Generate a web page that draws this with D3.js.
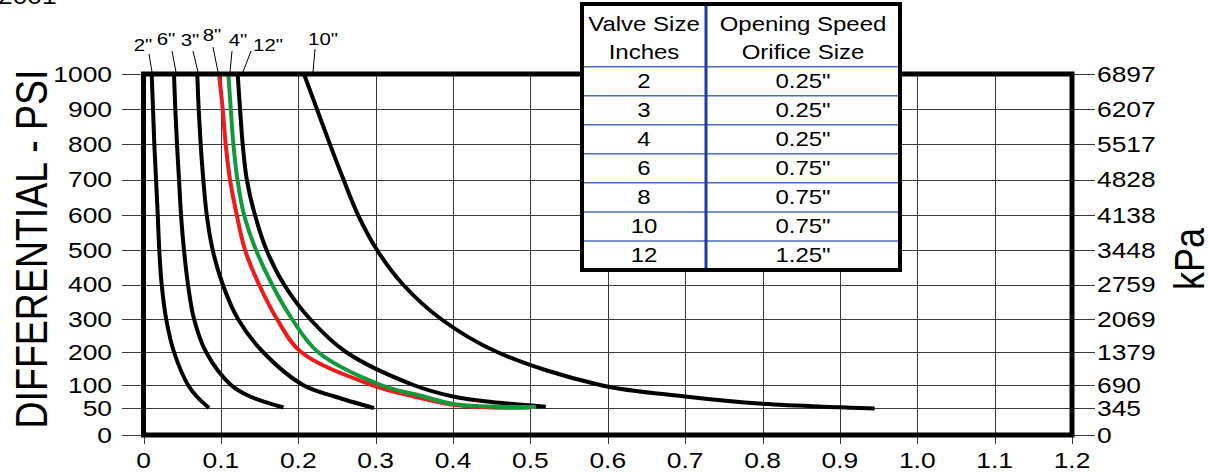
<!DOCTYPE html>
<html><head><meta charset="utf-8">
<script src="https://cdn.jsdelivr.net/npm/d3@7"></script>
<style>
body{margin:0;background:#fff}
svg{display:block}
text{font-family:"Liberation Sans",Arial,Helvetica,sans-serif;fill:#000}
</style>
</head><body>
<svg id="chart" width="1209" height="473"></svg>
<script>
// ---------------- data ----------------
const psiTicks = [0, 50, 100, 200, 300, 400, 500, 600, 700, 800, 900, 1000];
const psiTickLabels = ["0","50","100","200","300","400","500","600","700","800","900","1000"];
const kpaTickLabels = ["0","345","690","1379","2069","2759","3448","4138","4828","5517","6207","6897"];
const xTicks = [0, 0.1, 0.2, 0.3, 0.4, 0.5, 0.6, 0.7, 0.8, 0.9, 1.0, 1.1, 1.2];
const xTickLabels = ["0","0.1","0.2","0.3","0.4","0.5","0.6","0.7","0.8","0.9","1.0","1.1","1.2"];

// curve points: [x value, differential psi]
const curve2in  = [[0.0106,1000],[0.0123,900],[0.0140,800],[0.0162,700],[0.0184,600],[0.0204,500],[0.0235,400],[0.0293,300],[0.0394,200],[0.0575,100],[0.0688,75],[0.0847,50]];
const curve6in  = [[0.0394,1000],[0.0411,900],[0.0433,800],[0.0459,700],[0.0485,600],[0.0523,500],[0.0575,400],[0.0653,300],[0.0808,200],[0.1131,100],[0.1376,75],[0.1809,51]];
const curve3in  = [[0.0695,1000],[0.0713,900],[0.0739,800],[0.0773,700],[0.0817,600],[0.0894,500],[0.1024,400],[0.1221,300],[0.1544,200],[0.2061,100],[0.2470,75],[0.2979,50]];
const curve8in  = [[0.0976,1000],[0.1024,900],[0.1062,800],[0.1118,700],[0.1205,600],[0.1312,500],[0.1493,400],[0.1725,300],[0.2036,200],[0.2953,100],[0.3496,75],[0.4000,57],[0.4500,51],[0.5000,51]];
const curve4in  = [[0.1097,1000],[0.1128,900],[0.1162,800],[0.1214,700],[0.1299,600],[0.1454,500],[0.1661,400],[0.1919,300],[0.2255,200],[0.3069,100],[0.3599,76],[0.4000,59],[0.4500,53],[0.5073,52]];
const curve12in = [[0.1217,1000],[0.1248,900],[0.1282,800],[0.1335,700],[0.1440,600],[0.1590,500],[0.1816,400],[0.2152,300],[0.2617,200],[0.3489,100],[0.4000,75],[0.4500,63],[0.5200,53]];
const curve10in = [[0.2074,1000],[0.2242,900],[0.2410,800],[0.2585,700],[0.2772,600],[0.3018,500],[0.3354,400],[0.3845,300],[0.4569,200],[0.5901,100],[0.7000,75],[0.8000,59],[0.9000,51.5],[0.9450,49]];

const curveNames  = ['2"', '6"', '3"', '8"', '4"', '12"', '10"'];
const curveSeries = [curve2in, curve6in, curve3in, curve8in, curve4in, curve12in, curve10in];

const tableHeader1 = ["Valve Size", "Inches"];
const tableHeader2 = ["Opening Speed", "Orifice Size"];
const tableValveSizes = ["2","3","4","6","8","10","12"];
const tableOrifice = ['0.25"','0.25"','0.25"','0.75"','0.75"','0.75"','1.25"'];

// ---------------- layout / style ----------------
const SX = 1.2; // horizontal glyph stretch of the original artwork
const curveColor = {'8"': "#f01a1a", '4"': "#12993c"};
// curve label placement: [textCenterX, baselineY, leaderTopX, leaderTopY, leaderBottomX]
const labelLayout = {
  '2"':  [143, 51, 149, 54, 152],
  '6"':  [166, 45, 172, 51, 176],
  '3"':  [190, 46, 193, 51, 198],
  '8"':  [212, 41, 213, 47, 218],
  '4"':  [238, 46, 232, 51, 230],
  '12"': [268, 51, 251, 51, 243],
  '10"': [323, 45, 315, 49, 313]
};

const svg = d3.select("#chart");

const x = d3.scaleLinear().domain([0, 1.2]).range([143.5, 1072]);
const y = d3.scaleLinear().domain([0, 50, 100, 300, 500, 1000]).range([435, 408, 385, 319, 250, 74]);

function stxt(g, str, px, py, size, anchor, rotate) {
  return g.append("text")
    .attr("transform", `translate(${px},${py}) scale(${SX},1)` + (rotate ? " rotate(-90)" : ""))
    .attr("text-anchor", anchor)
    .attr("font-size", size)
    .text(str);
}

// ---------------- grid ----------------
const grid = svg.append("g").attr("shape-rendering", "crispEdges").attr("stroke", "#3a3a3a").attr("stroke-width", 1);
grid.selectAll("line.h").data(psiTicks).join("line").attr("class","h")
  .attr("x1", 122).attr("x2", 1095)
  .attr("y1", d => Math.round(y(d)) + 0.5).attr("y2", d => Math.round(y(d)) + 0.5);
grid.selectAll("line.v").data(xTicks).join("line").attr("class","v")
  .attr("x1", d => Math.round(x(d)) + 0.5).attr("x2", d => Math.round(x(d)) + 0.5)
  .attr("y1", y(1000)).attr("y2", y(0) + 9);

// ---------------- tick labels ----------------
const lab = svg.append("g");
psiTicks.forEach((v, i) => stxt(lab, psiTickLabels[i], 112, y(v) + 7.7, 22, "end"));
psiTicks.forEach((v, i) => stxt(lab, kpaTickLabels[i], 1097, y(v) + 7.7, 22, "start"));
xTicks.forEach((v, i) => stxt(lab, xTickLabels[i], x(v), 468, 22, "middle"));

// axis titles
stxt(lab, "DIFFERENTIAL - PSI", 47, 249, 37.5, "middle", true);
stxt(lab, "kPa", 1204, 259, 36, "middle", true);
stxt(lab, "2001", -2, 3.5, 22, "start");

// ---------------- curves ----------------
const line = d3.line().x(d => x(d[0])).y(d => y(d[1])).curve(d3.curveCatmullRom.alpha(0.5));
const cg = svg.append("g").attr("fill", "none").attr("stroke-width", 4).attr("stroke-linecap", "butt");
const order = [0, 1, 2, 5, 6, 3, 4];
order.forEach(i => {
  cg.append("path").attr("d", line(curveSeries[i]))
    .attr("stroke", curveColor[curveNames[i]] || "#000");
});

// ---------------- frame ----------------
svg.append("rect")
  .attr("x", x(0)).attr("y", y(1000))
  .attr("width", x(1.2) - x(0)).attr("height", y(0) - y(1000))
  .attr("fill", "none").attr("stroke", "#000").attr("stroke-width", 5);

// ---------------- curve labels ----------------
const cl = svg.append("g");
curveNames.forEach(n => {
  const L = labelLayout[n];
  cl.append("line").attr("x1", L[2]).attr("y1", L[3]).attr("x2", L[4]).attr("y2", y(1000) - 2)
    .attr("stroke", "#000").attr("stroke-width", 1);
  stxt(cl, n, L[0], L[1], 17, "middle");
});

// ---------------- table ----------------
const T = {left: 582, right: 900, top: 4, bottom: 270, split: 706, head: 66.7};
const tg = svg.append("g");
tg.append("rect").attr("x", T.left).attr("y", T.top).attr("width", T.right - T.left).attr("height", T.bottom - T.top)
  .attr("fill", "#fff");
const rowBand = d3.scaleBand().domain(tableValveSizes).range([T.head, T.bottom]);
tg.selectAll("line.row").data(tableValveSizes).join("line").attr("class","row")
  .attr("x1", T.left).attr("x2", T.right)
  .attr("y1", d => rowBand(d)).attr("y2", d => rowBand(d))
  .attr("stroke", "#4a6fc0").attr("stroke-width", 1.5);
tg.append("line").attr("x1", T.split).attr("x2", T.split).attr("y1", T.top).attr("y2", T.bottom)
  .attr("stroke", "#1c3d9e").attr("stroke-width", 3);
tg.append("rect").attr("x", T.left).attr("y", T.top).attr("width", T.right - T.left).attr("height", T.bottom - T.top)
  .attr("fill", "none").attr("stroke", "#000").attr("stroke-width", 4);
const c1 = (T.left + T.split) / 2, c2 = (T.split + T.right) / 2;
stxt(tg, tableHeader1[0], c1, 30.5, 20, "middle");
stxt(tg, tableHeader1[1], c1, 59, 20, "middle");
stxt(tg, tableHeader2[0], c2, 30.5, 20, "middle");
stxt(tg, tableHeader2[1], c2, 59, 20, "middle");
tableValveSizes.forEach((v, i) => {
  const cy = rowBand(v) + rowBand.bandwidth() / 2 + 7;
  stxt(tg, v, c1, cy, 20, "middle");
  stxt(tg, tableOrifice[i], c2, cy, 20, "middle");
});
</script>
</body></html>
